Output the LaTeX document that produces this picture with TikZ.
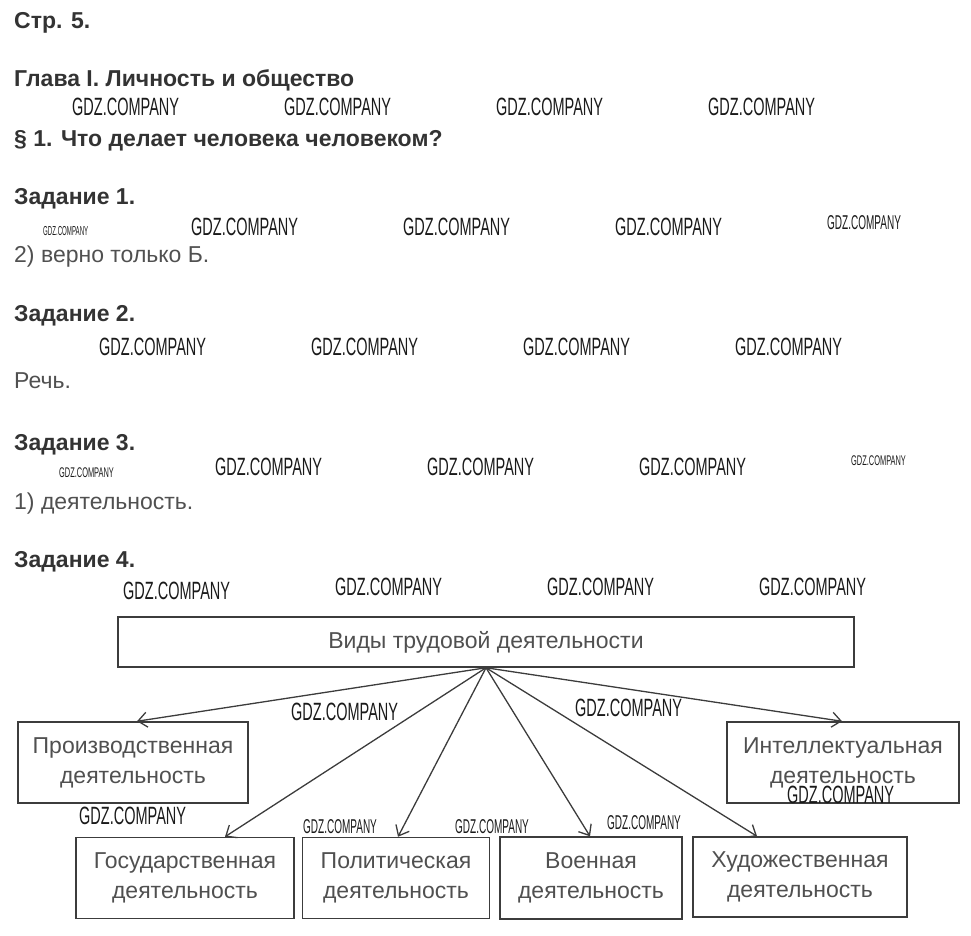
\documentclass[tikz,border=0pt]{standalone}
\usepackage{fontspec}
\setmainfont{Liberation Sans}
\usetikzlibrary{arrows.meta}
\definecolor{headgray}{HTML}{333333}
\definecolor{textgray}{HTML}{505050}
\definecolor{linegray}{HTML}{3C3C3C}
\definecolor{wmgray}{HTML}{1A1A1A}
\newcommand{\gdz}[2]{{\fontsize{#1}{#1}\selectfont\scalebox{#2}[1]{GDZ.COMPANY}}}
\tikzset{
  head/.style={anchor=base west, inner sep=0, text=headgray, font=\fontsize{23}{27}\selectfont\bfseries},
  answer/.style={anchor=base west, inner sep=0, text=textgray, font=\fontsize{23}{27}\selectfont},
  wm/.style={anchor=base west, inner sep=0, text=wmgray},
  kind/.style={draw=linegray, line width=1.5pt, align=center, inner sep=0, text=textgray, font=\fontsize{23}{30}\selectfont},
  arr/.style={draw=linegray, line width=1.3pt, -{Straight Barb[length=9pt,width=15pt]}},
}
\begin{document}
\begin{tikzpicture}[x=1pt,y=-1pt]
\useasboundingbox (0,0) rectangle (971,935);
\node[head] (p5) at (14,28) {Стр. 5.};
\node[head] (ch1) at (14,86) {Глава I. Личность и общество};
\node[head] (par1) at (14,146) {§ 1. Что делает человека человеком?};
\node[head] (t1) at (14,204) {Задание 1.};
\node[answer] (a1) at (14,262) {2) верно только Б.};
\node[head] (t2) at (14,321) {Задание 2.};
\node[answer] (a2) at (14,388) {Речь.};
\node[head] (t3) at (14,450) {Задание 3.};
\node[answer] (a3) at (14,509) {1) деятельность.};
\node[head] (t4) at (14,567) {Задание 4.};

% watermarks
\node[wm] (w1) at (72,115) {\gdz{25}{0.58}};
\node[wm] (w2) at (284,115) {\gdz{25}{0.58}};
\node[wm] (w3) at (496,115) {\gdz{25}{0.58}};
\node[wm] (w4) at (708,115) {\gdz{25}{0.58}};
\node[wm] (w5) at (43,235) {\gdz{13}{0.47}};
\node[wm] (w6) at (191,235) {\gdz{25}{0.58}};
\node[wm] (w7) at (403,235) {\gdz{25}{0.58}};
\node[wm] (w8) at (615,235) {\gdz{25}{0.58}};
\node[wm] (w9) at (827,229) {\gdz{20}{0.5}};
\node[wm] (w10) at (99,355) {\gdz{25}{0.58}};
\node[wm] (w11) at (311,355) {\gdz{25}{0.58}};
\node[wm] (w12) at (523,355) {\gdz{25}{0.58}};
\node[wm] (w13) at (735,355) {\gdz{25}{0.58}};
\node[wm] (w14) at (59,477) {\gdz{14}{0.53}};
\node[wm] (w15) at (215,475) {\gdz{25}{0.58}};
\node[wm] (w16) at (427,475) {\gdz{25}{0.58}};
\node[wm] (w17) at (639,475) {\gdz{25}{0.58}};
\node[wm] (w18) at (851,465) {\gdz{14}{0.53}};
\node[wm] (w19) at (123,599) {\gdz{25}{0.58}};
\node[wm] (w20) at (335,595) {\gdz{25}{0.58}};
\node[wm] (w21) at (547,595) {\gdz{25}{0.58}};
\node[wm] (w22) at (759,595) {\gdz{25}{0.58}};

% diagram
\node[kind, minimum width=736pt, minimum height=50pt] (kinds) at (486,642) {Виды трудовой деятельности};
\node[kind, minimum width=230pt, minimum height=81pt] (prod) at (133,762.5) {Производственная\\деятельность};
\node[kind, minimum width=232pt, minimum height=81pt] (intel) at (843,762.5) {Интеллектуальная\\деятельность};
\node[kind, minimum width=218pt, minimum height=81pt] (gos) at (185,878) {Государственная\\деятельность};
\node[kind, minimum width=187pt, minimum height=81pt] (pol) at (396,878) {Политическая\\деятельность};
\node[kind, minimum width=182pt, minimum height=82pt] (voen) at (591,878) {Военная\\деятельность};
\node[kind, minimum width=214pt, minimum height=80pt] (hud) at (800,877) {Художественная\\деятельность};

\draw[arr] (kinds.south) -- ([xshift=4pt]prod.north);
\draw[arr] (kinds.south) -- ([xshift=40pt]gos.north);
\draw[arr] (kinds.south) -- ([xshift=2pt]pol.north);
\draw[arr] (kinds.south) -- ([xshift=-1pt]voen.north);
\draw[arr] (kinds.south) -- ([xshift=-43pt]hud.north);
\draw[arr] (kinds.south) -- ([xshift=-1pt]intel.north);

\node[wm] (w23) at (291,720) {\gdz{25}{0.58}};
\node[wm] (w24) at (575,716) {\gdz{25}{0.58}};
\node[wm] (w25) at (79,824) {\gdz{25}{0.58}};
\node[wm] (w26) at (303,833) {\gdz{20}{0.5}};
\node[wm] (w27) at (455,833) {\gdz{20}{0.5}};
\node[wm] (w28) at (607,829) {\gdz{20}{0.5}};
\node[wm] (w29) at (787,803) {\gdz{25}{0.58}};
\end{tikzpicture}
\end{document}
